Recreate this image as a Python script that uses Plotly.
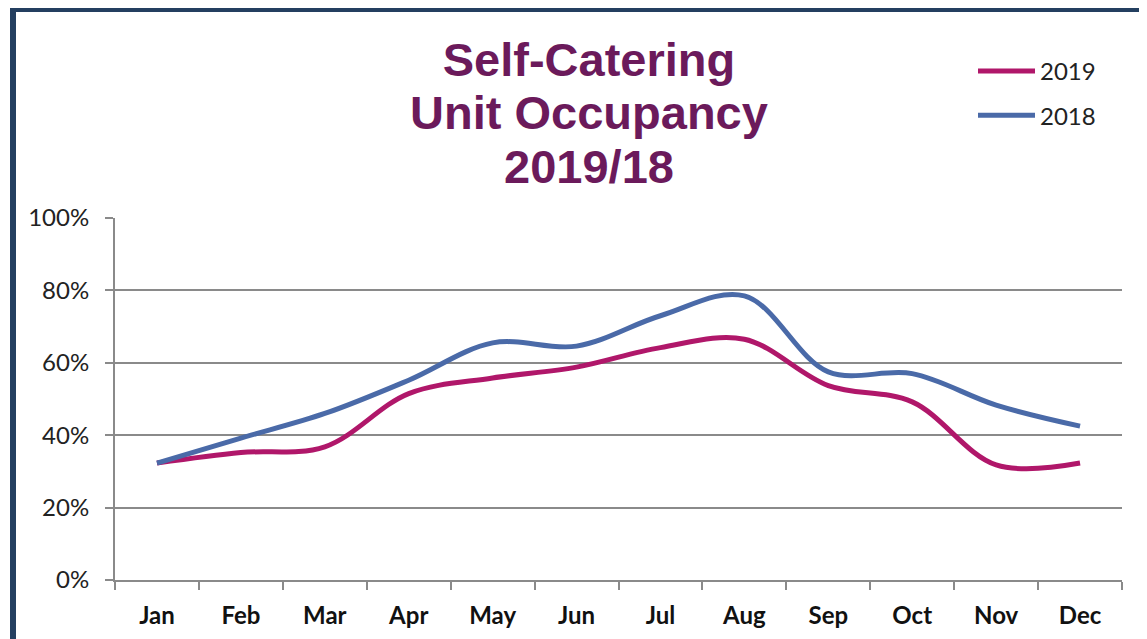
import plotly.graph_objects as go

months = ["Jan", "Feb", "Mar", "Apr", "May", "Jun", "Jul", "Aug", "Sep", "Oct", "Nov", "Dec"]
occ_2019 = [0.323, 0.352, 0.368, 0.515, 0.558, 0.588, 0.642, 0.665, 0.537, 0.492, 0.318, 0.323]
occ_2018 = [0.323, 0.392, 0.460, 0.552, 0.655, 0.646, 0.730, 0.785, 0.575, 0.570, 0.483, 0.425]
y_ticks = [0, 0.2, 0.4, 0.6, 0.8, 1.0]
y_tick_labels = ["0%", "20%", "40%", "60%", "80%", "100%"]
title_lines = ["Self-Catering", "Unit Occupancy", "2019/18"]

# page body has an 8px margin, so the figure is 8px smaller and coordinates are shifted
OFF = 8
W, H = 1147 - OFF, 639 - OFF
L, R, T, B = 115 - OFF, 25, 218 - OFF, 59
PW, PH = W - L - R, H - T - B

def px_x(px):
    return (px - OFF - L) / PW

def px_y(py):
    return (H - B - (py - OFF)) / PH

fig = go.Figure()
fig.add_trace(go.Scatter(
    x=months, y=occ_2019, name="2019", mode="lines", legendgroup="a",
    line=dict(color="#b0176a", width=5, shape="spline", smoothing=1.0),
))
fig.add_trace(go.Scatter(
    x=months, y=occ_2018, name="2018", mode="lines", legendgroup="b",
    line=dict(color="#4a6aa8", width=5, shape="spline", smoothing=1.0),
))

title_text = "<br>".join('<span style="font-size:47px">%s</span>' % s for s in title_lines)

fig.update_layout(
    width=W, height=H,
    margin=dict(l=L, r=R, t=T, b=B, autoexpand=False),
    paper_bgcolor="white", plot_bgcolor="white",
    title=dict(
        text=title_text,
        x=px_x(589), xref="paper", xanchor="center",
        y=1 - (76 - OFF) / H, yref="container", yanchor="top",
        font=dict(family="Liberation Sans", size=41, color="#6b1a5b", weight="bold"),
    ),
    legend=dict(
        x=px_x(973), xanchor="left", y=1 - (49 - OFF) / H, yref="container", yanchor="top",
        font=dict(family="Lato", size=24, color="#222222"),
        tracegroupgap=10, bgcolor="rgba(0,0,0,0)", itemwidth=57,
    ),
    showlegend=True,
    xaxis=dict(
        type="category", range=[-0.5, 11.5],
        showline=True, linecolor="#8a8a8a", linewidth=2,
        showgrid=False, ticks="outside", tickson="boundaries",
        ticklen=8, tickwidth=2, tickcolor="#8a8a8a",
        tickfont=dict(family="Lato", size=24, color="#111111", weight="bold"),
        ticklabelstandoff=13,
    ),
    yaxis=dict(
        range=[0, 1.0], tickvals=y_ticks, ticktext=y_tick_labels,
        showline=True, linecolor="#8a8a8a", linewidth=2,
        showgrid=True, gridcolor="#8a8a8a", gridwidth=2,
        zeroline=False,
        ticks="outside", ticklen=8, tickwidth=2, tickcolor="#8a8a8a",
        tickfont=dict(family="Lato", size=24, color="#222222"),
        ticklabelstandoff=11,
    ),
    shapes=[dict(
        type="rect", xref="paper", yref="paper",
        x0=px_x(13), x1=px_x(1175), y0=px_y(9), y1=px_y(680),
        line=dict(color="#243f60", width=6), fillcolor="rgba(0,0,0,0)",
        layer="above",
    )],
)

fig.write_html("out.html")
